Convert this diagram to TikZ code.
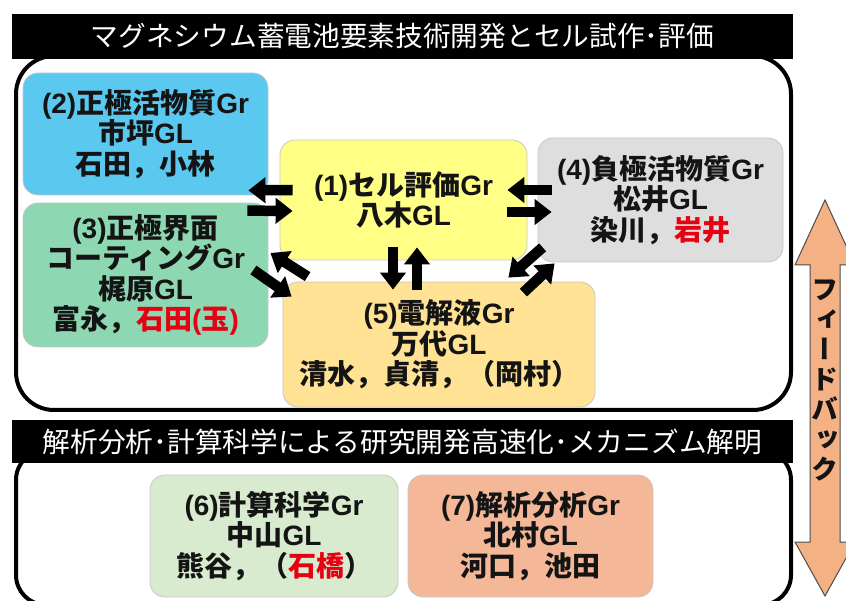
\documentclass[tikz,border=0pt]{standalone}
\usepackage{fontspec}
\setmainfont{Noto Sans CJK JP}
\newfontfamily\ar{Liberation Sans}
\newfontfamily\jpv{Noto Sans CJK JP}[RawFeature=+vert]
\usetikzlibrary{arrows.meta,calc}
\definecolor{cblue}{HTML}{5BC8F0}
\definecolor{cgreen}{HTML}{8DD7B2}
\definecolor{cyellow}{HTML}{FFFF85}
\definecolor{cgray}{HTML}{DEDEDE}
\definecolor{corange}{HTML}{FFE294}
\definecolor{clgreen}{HTML}{D8EBCE}
\definecolor{csalmon}{HTML}{F4B898}
\definecolor{cpeach}{HTML}{F4B183}
\definecolor{cred}{HTML}{E60012}
\definecolor{ctext}{HTML}{141414}
\newcommand\la[1]{{\ar #1}}
\newcommand\rd[1]{\textcolor{cred}{#1}}
\tikzset{
  grbox/.style={draw=black!22, line width=0.8pt, rounded corners=15pt, inner sep=0pt,
    align=center, text=ctext, font=\bfseries\fontsize{28}{30.5}\selectfont},
  banner/.style={fill=black, text=white, inner sep=0pt, minimum width=781pt,
    font=\fontsize{27.7}{30}\selectfont},
  frame/.style={draw=black, line width=4pt},
  blk/.style={line width=10.5pt, -{Triangle[length=17pt,width=25pt]}},
}
\begin{document}
\begin{tikzpicture}[x=1pt,y=-1pt]
\useasboundingbox (0,0) rectangle (846,601);
% frames
\draw[frame, rounded corners=38pt] (16,56) rectangle (791,410);
\draw[frame, rounded corners=30pt] (16,450) rectangle (791,605);
% banners
\node[banner, minimum height=45pt] (t1) at (402.5,36.5) {マグネシウム蓄電池要素技術開発とセル試作･評価};
\node[banner, minimum height=43pt] (t2) at (402.5,441.5) {解析分析･計算科学による研究開発高速化･メカニズム解明};
% group boxes
\node[grbox, fill=cblue, minimum width=245pt, minimum height=122pt] (b2) at (145.5,134)
  {\la{(2)}正極活物質\la{Gr}\\市坪\la{GL}\\石田，小林};
\node[grbox, fill=cgreen, minimum width=245pt, minimum height=144pt] (b3) at (145.5,275)
  {\la{(3)}正極界面\\コーティング\la{Gr}\\梶原\la{GL}\\富永，\rd{石田\la{(}玉\la{)}}};
\node[grbox, fill=cyellow, minimum width=247pt, minimum height=120pt] (b1) at (403.5,200)
  {\la{(1)}セル評価\la{Gr}\\八木\la{GL}};
\node[grbox, fill=cgray, minimum width=245pt, minimum height=124pt] (b4) at (660.5,200)
  {\la{(4)}負極活物質\la{Gr}\\松井\la{GL}\\染川，\rd{岩井}};
\node[grbox, fill=corange, minimum width=312pt, minimum height=125pt] (b5) at (439,344.5)
  {\la{(5)}電解液\la{Gr}\\万代\la{GL}\\清水，貞清，（岡村）};
\node[grbox, fill=clgreen, minimum width=248pt, minimum height=122pt] (b6) at (274,536)
  {\la{(6)}計算科学\la{Gr}\\中山\la{GL}\\熊谷，（\rd{石橋}）};
\node[grbox, fill=csalmon, minimum width=245pt, minimum height=122pt] (b7) at (530.5,536)
  {\la{(7)}解析分析\la{Gr}\\北村\la{GL}\\河口，池田};
% arrows
\draw[blk] ($(b1.west)+(13,-10)$) -- ($(b2.south east)+(-20,-5)$);
\draw[blk] ($(b3.north east)+(-21,8)$) -- ($(b1.west)+(13,11)$);
\draw[blk] ($(b4.west)+(14,-10)$) -- ($(b1.east)+(-20,-10)$);
\draw[blk] ($(b1.east)+(-20,12)$) -- ($(b4.west)+(14,12)$);
\draw[blk] ($(b1.south)+(-10.5,-13)$) -- ($(b5.north)+(-46,8)$);
\draw[blk] ($(b5.north)+(-22,8)$) -- ($(b1.south)+(13.5,-13)$);
\draw[blk] ($(b3.east)+(-15,-5)$) -- ($(b5.north west)+(9,15)$);
\draw[blk] ($(b5.north west)+(25,-5)$) -- ($(b3.east)+(2,-22)$);
\draw[blk] ($(b4.south west)+(5,-15)$) -- ($(b5.north east)+(-87,-4)$);
\draw[blk] ($(b5.north east)+(-72,11)$) -- ($(b4.south west)+(17,1)$);
% feedback arrow
\draw[fill=cpeach, draw=black!70, line width=1pt]
  (825,200) -- (855,265) -- (840,265) -- (840,542) -- (855,542) -- (825,596)
  -- (795,542) -- (810,542) -- (810,265) -- (795,265) -- cycle;
\node[align=center, inner sep=0pt, text=ctext, font=\jpv\bfseries\fontsize{27}{30}\selectfont] (fb) at (825,380)
  {フ\\ィ\\ー\\ド\\バ\\ッ\\ク};
\end{tikzpicture}
\end{document}
